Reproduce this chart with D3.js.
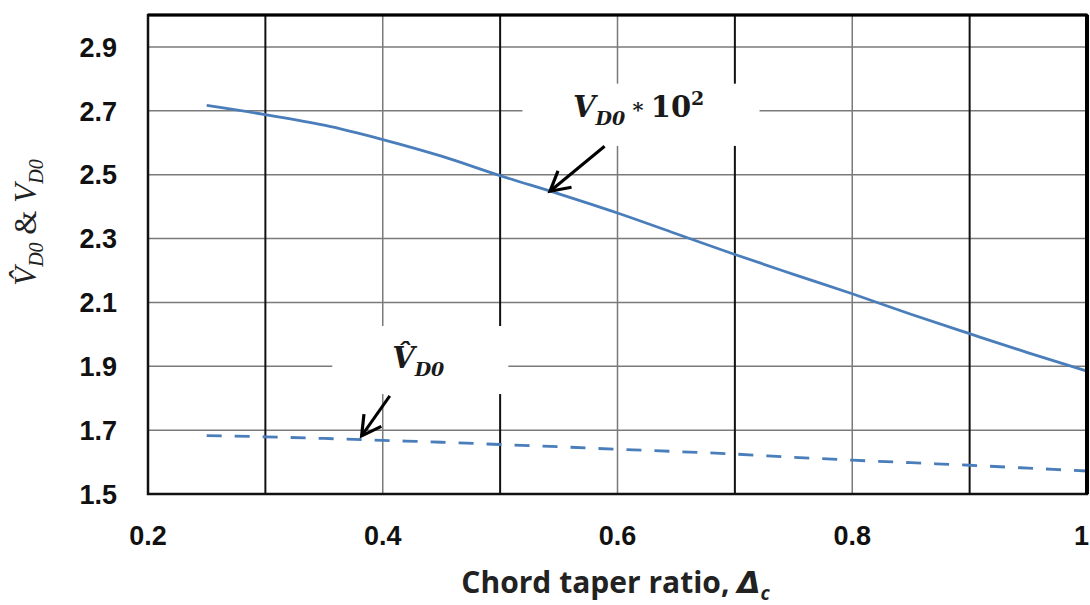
<!DOCTYPE html>
<html>
<head>
<meta charset="utf-8">
<script src="https://cdn.jsdelivr.net/npm/d3@7"></script>
<style>
  body { margin: 0; background: #fff; }
  svg { display: block; }
</style>
</head>
<body>
<div id="chart"></div>
<script>
// Taper ratio samples
const taper = [0.25, 0.3, 0.35, 0.4, 0.45, 0.5, 0.55, 0.6, 0.65, 0.7, 0.75, 0.8, 0.85, 0.9, 0.95, 1.0];
// V_D0 * 10^2 (solid line)
const vD0 = [2.717, 2.688, 2.655, 2.610, 2.558, 2.497, 2.440, 2.380, 2.315, 2.250, 2.188, 2.127, 2.063, 2.002, 1.942, 1.885];
// V-hat_D0 (dashed line)
const vHatD0 = [1.683, 1.679, 1.674, 1.668, 1.662, 1.655, 1.648, 1.640, 1.633, 1.625, 1.615, 1.606, 1.598, 1.590, 1.581, 1.572];

const xTicks = [0.2, 0.4, 0.6, 0.8, 1];
const xMajorGrid = [0.3, 0.5, 0.7, 0.9];
const xMinorGrid = [0.4, 0.6, 0.8];
const yTicks = [1.5, 1.7, 1.9, 2.1, 2.3, 2.5, 2.7, 2.9];

const W = 1090, H = 605;
const margin = { top: 15, right: 3, bottom: 111, left: 148 };
const width = W - margin.left - margin.right;
const height = H - margin.top - margin.bottom;

const svg = d3.select("#chart")
    .append("svg")
    .attr("width", W)
    .attr("height", H)
    .append("g")
    .attr("transform", `translate(${margin.left},${margin.top})`);

const x = d3.scaleLinear().domain([0.2, 1.0]).range([0, width]);
const y = d3.scaleLinear().domain([1.5, 3.0]).range([height, 0]);

// Horizontal gridlines
svg.append("g")
    .selectAll("line")
    .data(yTicks.filter(d => d > 1.5))
    .enter()
    .append("line")
    .attr("x1", 0).attr("x2", width)
    .attr("y1", d => y(d)).attr("y2", d => y(d))
    .attr("stroke", "#7a7a7a")
    .attr("stroke-width", 1.5);

// Vertical gridlines: grey minor, black major
svg.append("g")
    .selectAll("line")
    .data(xMinorGrid)
    .enter()
    .append("line")
    .attr("x1", d => x(d)).attr("x2", d => x(d))
    .attr("y1", 0).attr("y2", height)
    .attr("stroke", "#7a7a7a")
    .attr("stroke-width", 1.5);

svg.append("g")
    .selectAll("line")
    .data(xMajorGrid)
    .enter()
    .append("line")
    .attr("x1", d => x(d)).attr("x2", d => x(d))
    .attr("y1", 0).attr("y2", height)
    .attr("stroke", "#111")
    .attr("stroke-width", 2);

// Annotation boxes (white, hide gridlines behind labels)
const boxes = [
    { x0: 0.519, x1: 0.721, y0: 2.785, y1: 2.59 },
    { x0: 0.357, x1: 0.507, y0: 2.026, y1: 1.813 }
];
svg.append("g")
    .selectAll("rect")
    .data(boxes)
    .enter()
    .append("rect")
    .attr("x", d => x(d.x0))
    .attr("y", d => y(d.y0))
    .attr("width", d => x(d.x1) - x(d.x0))
    .attr("height", d => y(d.y1) - y(d.y0))
    .attr("fill", "#fff");

// Lines
const line = (vals) => d3.line()
    .x((d, i) => x(taper[i]))
    .y(d => y(d))
    .curve(d3.curveMonotoneX)(vals);

svg.append("path")
    .attr("d", line(vD0))
    .attr("fill", "none")
    .attr("stroke", "#4a7ebb")
    .attr("stroke-width", 2.8);

svg.append("path")
    .attr("d", line(vHatD0))
    .attr("fill", "none")
    .attr("stroke", "#4a7ebb")
    .attr("stroke-width", 2.8)
    .attr("stroke-dasharray", "15,13");

// Frame
svg.append("rect")
    .attr("x", 0).attr("y", 0)
    .attr("width", width).attr("height", height)
    .attr("fill", "none")
    .attr("stroke", "#111")
    .attr("stroke-width", 2.5);
svg.append("line")
    .attr("x1", width).attr("x2", width)
    .attr("y1", 0).attr("y2", height)
    .attr("stroke", "#000")
    .attr("stroke-width", 4);
svg.append("line")
    .attr("x1", 0).attr("x2", width)
    .attr("y1", 0).attr("y2", 0)
    .attr("stroke", "#000")
    .attr("stroke-width", 3);

// Tick labels
svg.append("g")
    .selectAll("text")
    .data(xTicks)
    .enter()
    .append("text")
    .attr("x", d => x(d))
    .attr("y", height + 51)
    .attr("text-anchor", d => d === 1 ? "end" : "middle")
    .attr("dx", d => d === 1 ? 2 : 0)
    .style("font-family", "Liberation Sans, Arial, sans-serif")
    .style("font-weight", "bold")
    .style("font-size", "27px")
    .attr("fill", "#111")
    .text(d => d3.format("")(d));

svg.append("g")
    .selectAll("text")
    .data(yTicks)
    .enter()
    .append("text")
    .attr("x", -31)
    .attr("y", d => y(d))
    .attr("dy", "0.36em")
    .attr("text-anchor", "end")
    .style("font-family", "Liberation Sans, Arial, sans-serif")
    .style("font-weight", "bold")
    .style("font-size", "27px")
    .attr("fill", "#111")
    .text(d => d.toFixed(1));

// X axis title
const xTitle = svg.append("text")
    .attr("x", width / 2 - 2)
    .attr("y", height + 99)
    .attr("text-anchor", "middle")
    .style("font-family", "Open Sans, sans-serif")
    .style("font-weight", "bold")
    .style("font-size", "30px")
    .attr("fill", "#222");
xTitle.append("tspan").text("Chord taper ratio,  ");
xTitle.append("tspan").style("font-style", "italic").style("font-family", "DejaVu Sans, sans-serif").text("Δ");
xTitle.append("tspan").attr("dy", 7).style("font-size", "19px").style("font-style", "italic").text("c");

// Y axis title
const yTitle = svg.append("text")
    .attr("transform", "rotate(-90)")
    .attr("x", -(y(2.35)))
    .attr("y", -112)
    .attr("text-anchor", "middle")
    .style("font-family", "Liberation Serif, serif")
    .style("font-size", "31px")
    .attr("fill", "#222");
yTitle.append("tspan").style("font-style", "italic").text("V\u0302");
yTitle.append("tspan").attr("dy", 7).style("font-size", "20px").style("font-style", "italic").text("D0");
yTitle.append("tspan").attr("dy", -7).text(" & ");
yTitle.append("tspan").style("font-style", "italic").text("V");
yTitle.append("tspan").attr("dy", 7).style("font-size", "20px").style("font-style", "italic").text("D0");

// Annotation labels
const lab1 = svg.append("text")
    .attr("x", x(0.562))
    .attr("y", y(2.68))
    .style("font-family", "DejaVu Serif, serif")
    .style("font-weight", "bold")
    .style("font-size", "29px")
    .attr("fill", "#1a1a1a");
lab1.append("tspan").style("font-style", "italic").text("V");
lab1.append("tspan").attr("dy", 8).style("font-size", "19px").style("font-style", "italic").text("D0");
lab1.append("tspan").attr("dy", -8).style("font-size", "21px").text(" * ");
lab1.append("tspan").text("10");
lab1.append("tspan").attr("dy", -12).style("font-size", "19px").text("2");

const lab2 = svg.append("text")
    .attr("x", x(0.408))
    .attr("y", y(1.895))
    .style("font-family", "DejaVu Serif, serif")
    .style("font-weight", "bold")
    .style("font-size", "29px")
    .attr("fill", "#1a1a1a");
lab2.append("tspan").style("font-style", "italic").text("V\u0302");
lab2.append("tspan").attr("dy", 8).style("font-size", "19px").style("font-style", "italic").text("D0");

// Arrows
svg.append("defs").append("marker")
    .attr("id", "head")
    .attr("viewBox", "0 0 12 12")
    .attr("refX", 10).attr("refY", 6)
    .attr("markerWidth", 8.5).attr("markerHeight", 8.5)
    .attr("markerUnits", "strokeWidth")
    .attr("orient", "auto")
    .append("path")
    .attr("d", "M1,1 L10,6 L1,11")
    .attr("fill", "none")
    .attr("stroke", "#000")
    .attr("stroke-width", 1.5);

const arrows = [
    { x0: 0.589, y0: 2.589, x1: 0.5425, y1: 2.448 },
    { x0: 0.406, y0: 1.807, x1: 0.382, y1: 1.682 }
];
svg.append("g")
    .selectAll("line")
    .data(arrows)
    .enter()
    .append("line")
    .attr("x1", d => x(d.x0)).attr("y1", d => y(d.y0))
    .attr("x2", d => x(d.x1)).attr("y2", d => y(d.y1))
    .attr("stroke", "#000")
    .attr("stroke-width", 3)
    .attr("marker-end", "url(#head)");
</script>
</body>
</html>
